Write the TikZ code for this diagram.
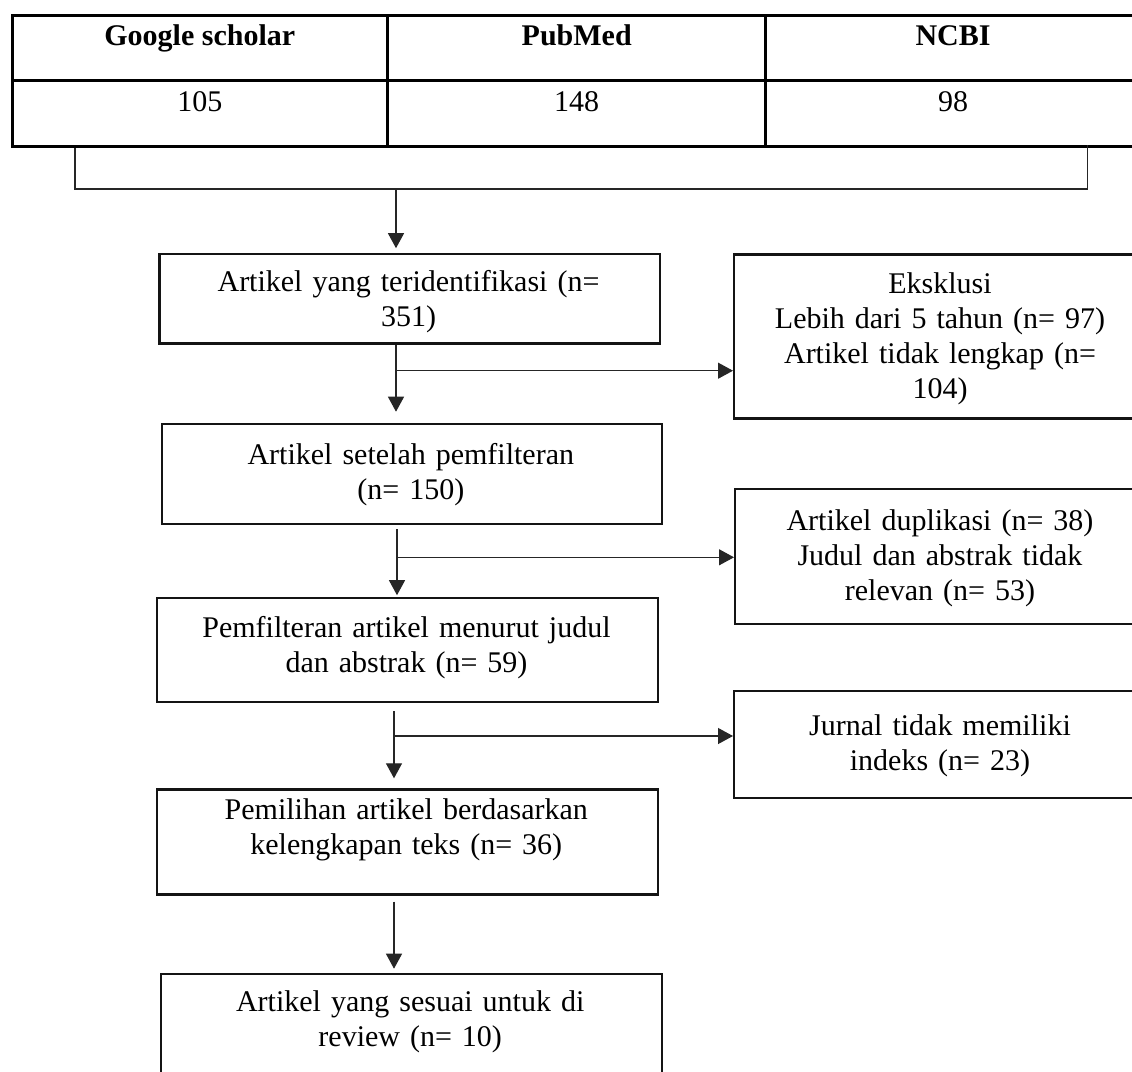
\documentclass[tikz,border=0pt]{standalone}
\usepackage{fontspec}
\setmainfont{Liberation Serif}
\usetikzlibrary{arrows.meta}
\begin{document}
\begin{tikzpicture}[x=1pt,y=-1pt,
  box/.style={draw=black!92,line width=2.4pt,inner sep=0pt,anchor=north west},
  txt/.style={anchor=base,align=center,text width=520pt,inner sep=0pt,font=\fontsize{30}{35}\selectfont},
  hdr/.style={anchor=base,inner sep=0pt,font=\fontsize{30}{35}\selectfont\bfseries},
  num/.style={anchor=base,inner sep=0pt,font=\fontsize{30}{35}\selectfont},
  conn/.style={draw=black!85,line width=1.2pt},
  arr/.style={conn,-{Triangle[width=16pt,length=15pt]}},
  tline/.style={line width=3pt,draw=black}]
\clip (0,0) rectangle (1132,1071);
\fill[white] (0,0) rectangle (1132,1071);
% table
\draw[tline] (12,15) rectangle (1160,146.7);
\draw[tline] (12,80) -- (1160,80);
\draw[tline] (387.7,15) -- (387.7,146.7);
\draw[tline] (765.7,15) -- (765.7,146.7);
\node[hdr] (h1) at (199.8,45) {Google scholar};
\node[hdr] (h2) at (576.7,45) {PubMed};
\node[hdr] (h3) at (953,45) {NCBI};
\node[num] (n1) at (199.8,111.7) {105};
\node[num] (n2) at (576.7,111.7) {148};
\node[num] (n3) at (953,111.7) {98};
% bracket
\coordinate (brL) at (75,148);
\coordinate (brLb) at (75,189);
\coordinate (brRb) at (1087.3,189);
\coordinate (brR) at (1087.3,145);
\draw[conn] (brL) -- (brLb) -- (brRb) -- (brR);
% boxes
\node[box,minimum width=500.7pt,minimum height=89.6pt] (b1) at (158.3,252.7) {};
\node[box,minimum width=500.3pt,minimum height=100pt] (b2) at (160.7,422.7) {};
\node[box,minimum width=501pt,minimum height=104.3pt] (b3) at (156,596.7) {};
\node[box,minimum width=500.6pt,minimum height=105pt] (b4) at (156,788.3) {};
\node[box,minimum width=500.5pt,minimum height=120pt] (b5) at (160,972.7) {};
\node[box,minimum width=414pt,minimum height=164pt] (e1) at (733,253.3) {};
\node[box,minimum width=413pt,minimum height=134.7pt] (e2) at (734,488) {};
\node[box,minimum width=414pt,minimum height=106.7pt] (e3) at (733,690) {};
% texts
\node[txt] (t1) at (408.5,291.7) {Artikel yang teridentifikasi (n=\\351)};
\node[txt] (t2) at (410.8,464.7) {Artikel setelah pemfilteran\\(n= 150)};
\node[txt] (t3) at (406.5,637) {Pemfilteran artikel menurut judul\\dan abstrak (n= 59)};
\node[txt] (t4) at (406.3,819.3) {Pemilihan artikel berdasarkan\\kelengkapan teks (n= 36)};
\node[txt] (t5) at (410.2,1011.7) {Artikel yang sesuai untuk di\\review (n= 10)};
\node[txt] (u1) at (940,293.3) {Eksklusi\\Lebih dari 5 tahun (n= 97)\\Artikel tidak lengkap (n=\\104)};
\node[txt] (u2) at (940,530) {Artikel duplikasi (n= 38)\\Judul dan abstrak tidak\\relevan (n= 53)};
\node[txt] (u3) at (940,735) {Jurnal tidak memiliki\\indeks (n= 23)};
% connectors
\coordinate (j0) at (396,189);
\draw[arr,shorten >=4.5pt] (j0) -- (j0 |- b1.north);
\coordinate (s1) at (396,345);
\coordinate (k1) at (396,370.7);
\draw[arr,shorten >=11pt] (s1) -- (s1 |- b2.north);
\draw[arr] (k1) -- (k1 -| e1.west);
\coordinate (s2) at (397,529);
\coordinate (k2) at (397,557.3);
\draw[arr,shorten >=1.5pt] (s2) -- (s2 |- b3.north);
\draw[arr] (k2) -- (k2 -| e2.west);
\coordinate (s3) at (394,711);
\coordinate (k3) at (394,736);
\draw[arr,shorten >=10pt] (s3) -- (s3 |- b4.north);
\draw[arr] (k3) -- (k3 -| e3.west);
\coordinate (s4) at (394,901.7);
\draw[arr,shorten >=4pt] (s4) -- (s4 |- b5.north);
\end{tikzpicture}
\end{document}
